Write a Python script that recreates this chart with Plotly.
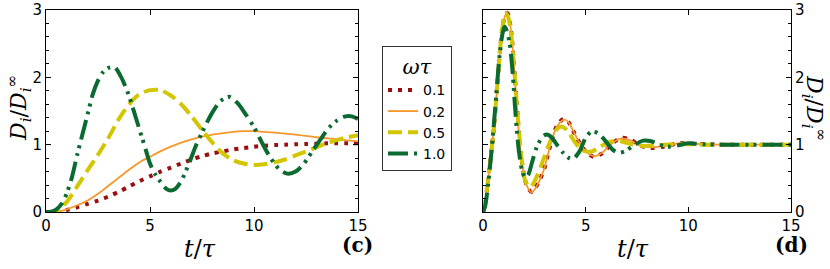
import plotly.graph_objects as go

# ---------------- data: panel (c) ----------------
c_t_01 = [0, 0.5, 1, 1.5, 2, 2.5, 3, 3.5, 4, 4.5, 5, 5.5, 6, 6.5, 7, 7.5, 8, 8.5, 9, 9.5,
          10, 10.5, 11, 11.5, 12, 12.5, 13, 13.5, 14, 14.5, 15]
c_v_01 = [0, 0.0, 0.03, 0.07, 0.12, 0.17, 0.23, 0.30, 0.38, 0.46, 0.53, 0.60, 0.66, 0.72,
          0.78, 0.83, 0.87, 0.90, 0.93, 0.95, 0.97, 0.985, 0.995, 1.0, 1.005, 1.01, 1.015,
          1.02, 1.02, 1.02, 1.02]

c_t_02 = [0, 0.5, 1, 1.5, 2, 2.5, 3, 3.5, 4, 4.5, 5, 5.5, 6, 6.5, 7, 7.5, 8, 8.5, 9, 9.5,
          10, 10.5, 11, 12, 13, 14, 15]
c_v_02 = [0, 0.005, 0.04, 0.10, 0.17, 0.27, 0.39, 0.51, 0.63, 0.74, 0.82, 0.90, 0.97, 1.03,
          1.08, 1.12, 1.15, 1.17, 1.19, 1.20, 1.20, 1.19, 1.18, 1.15, 1.11, 1.08, 1.05]

c_t_05 = [0, 0.5, 1, 1.5, 2, 2.5, 3, 3.5, 4, 4.5, 5, 5.5, 6, 6.5, 7, 7.5, 8, 8.5, 9, 9.5,
          10, 10.5, 11, 11.5, 12, 12.5, 13, 13.5, 14, 14.5, 15]
c_v_05 = [0, 0.01, 0.15, 0.38, 0.62, 0.85, 1.10, 1.38, 1.60, 1.75, 1.81, 1.81, 1.73, 1.60,
          1.42, 1.22, 1.03, 0.87, 0.77, 0.72, 0.70, 0.71, 0.74, 0.78, 0.84, 0.90, 0.96, 1.02,
          1.07, 1.11, 1.14]

c_t_10 = [0, 0.25, 0.5, 0.75, 1, 1.25, 1.5, 1.75, 2, 2.25, 2.5, 2.75, 3, 3.3, 3.6, 3.9, 4.1,
          4.35, 4.6, 4.8, 5, 5.25, 5.5, 5.8, 6, 6.2, 6.5, 6.9, 7.2, 7.5, 8, 8.4, 8.8, 9.2, 9.6,
          10, 10.4, 10.8, 11.2, 11.6, 12, 12.4, 12.8, 13.2, 13.6, 14, 14.4, 14.7, 15]
c_v_10 = [0, 0.005, 0.04, 0.12, 0.28, 0.52, 0.85, 1.15, 1.45, 1.75, 1.95, 2.08, 2.14, 2.15,
          2.01, 1.80, 1.62, 1.37, 1.12, 0.92, 0.72, 0.56, 0.45, 0.34, 0.32, 0.34, 0.46, 0.74,
          0.98, 1.18, 1.48, 1.65, 1.71, 1.62, 1.45, 1.26, 1.02, 0.80, 0.64, 0.57, 0.60, 0.72,
          0.90, 1.08, 1.25, 1.36, 1.42, 1.42, 1.38]

# ---------------- data: panel (d) ----------------
d_t_01 = [0, 0.1, 0.2, 0.35, 0.5, 0.65, 0.8, 0.95, 1.1, 1.2, 1.3, 1.4, 1.55, 1.7, 1.85, 2.0,
          2.15, 2.35, 2.55, 2.8, 3.0, 3.2, 3.4, 3.6, 3.85, 4.0, 4.2, 4.4, 4.7, 5.0, 5.4, 5.8,
          6.2, 6.7, 7.2, 7.7, 8.2, 8.8, 9.5, 10.5, 11.5, 13, 15]
d_v_01 = [0, 0.10, 0.35, 0.75, 1.15, 1.70, 2.30, 2.74, 2.94, 2.95, 2.83, 2.60, 2.02, 1.37,
          0.86, 0.54, 0.38, 0.30, 0.36, 0.50, 0.66, 0.90, 1.12, 1.28, 1.37, 1.38, 1.32, 1.20,
          1.03, 0.90, 0.82, 0.87, 0.99, 1.10, 1.07, 0.98, 0.95, 0.97, 1.02, 1.01, 1.0, 1.0, 1.0]

d_t_02 = [0, 0.1, 0.2, 0.35, 0.5, 0.65, 0.8, 0.95, 1.1, 1.2, 1.3, 1.4, 1.55, 1.7, 1.85, 2.0,
          2.15, 2.35, 2.55, 2.8, 3.0, 3.2, 3.4, 3.6, 3.85, 4.0, 4.2, 4.4, 4.7, 5.0, 5.4, 5.8,
          6.2, 6.7, 7.2, 7.7, 8.2, 8.8, 9.5, 10.5, 11.5, 13, 15]
d_v_02 = [0, 0.10, 0.35, 0.75, 1.15, 1.70, 2.30, 2.73, 2.93, 2.93, 2.82, 2.60, 2.00, 1.35,
          0.85, 0.53, 0.38, 0.29, 0.35, 0.50, 0.66, 0.90, 1.12, 1.27, 1.36, 1.37, 1.32, 1.20,
          1.03, 0.90, 0.83, 0.88, 1.00, 1.09, 1.06, 0.98, 0.96, 0.98, 1.02, 1.01, 1.0, 1.0, 1.0]

d_t_05 = [0, 0.1, 0.2, 0.35, 0.5, 0.65, 0.8, 0.95, 1.1, 1.2, 1.3, 1.45, 1.6, 1.75, 1.9, 2.05,
          2.25, 2.45, 2.65, 2.86, 3.0, 3.18, 3.4, 3.6, 3.8, 4.0, 4.2, 4.45, 4.7, 5.0, 5.3, 5.6,
          6.0, 6.3, 6.7, 7.2, 7.8, 8.5, 9.5, 11, 15]
d_v_05 = [0, 0.10, 0.35, 0.75, 1.15, 1.70, 2.30, 2.75, 2.95, 2.92, 2.80, 2.40, 1.80, 1.20,
          0.75, 0.47, 0.37, 0.42, 0.55, 0.71, 0.83, 0.98, 1.13, 1.23, 1.27, 1.24, 1.17, 1.05,
          0.95, 0.90, 0.90, 0.95, 1.02, 1.05, 1.05, 1.01, 0.98, 0.99, 1.01, 1.0, 1.0]

d_t_10 = [0, 0.1, 0.2, 0.35, 0.5, 0.65, 0.8, 0.95, 1.05, 1.15, 1.3, 1.45, 1.55, 1.65, 1.75,
          1.9, 2.05, 2.2, 2.4, 2.6, 2.9, 3.1, 3.3, 3.6, 3.9, 4.2, 4.4, 4.7, 5.0, 5.3, 5.6, 5.9,
          6.3, 6.6, 6.9, 7.3, 7.8, 8.2, 8.6, 9.0, 9.5, 10.0, 10.5, 11.5, 15]
d_v_10 = [0, 0.08, 0.28, 0.70, 1.20, 1.75, 2.30, 2.65, 2.75, 2.70, 2.50, 2.05, 1.60, 1.20,
          0.90, 0.62, 0.51, 0.55, 0.75, 0.95, 1.12, 1.15, 1.12, 1.00, 0.88, 0.80, 0.79, 0.90,
          1.10, 1.20, 1.17, 1.08, 0.93, 0.88, 0.90, 0.98, 1.06, 1.05, 1.00, 0.97, 0.99, 1.02,
          1.01, 1.0, 1.0]

labels = ["0.1", "0.2", "0.5", "1.0"]
x_ticks = [0, 5, 10, 15]
y_ticks = [0, 1, 2, 3]

colors = ["#990f0f", "#f7962b", "#d2c600", "#0b6a30"]
widths = [4, 1.8, 4, 4]
dashes = ["4px,6px", "solid", "14px,6px", "20px,6px,3px,5px,3px,6px"]

c_series = [(c_t_01, c_v_01), (c_t_02, c_v_02), (c_t_05, c_v_05), (c_t_10, c_v_10)]
d_series = [(d_t_01, d_v_01), (d_t_02, d_v_02), (d_t_05, d_v_05), (d_t_10, d_v_10)]

fig = go.Figure()
for i, (t, v) in enumerate(c_series):
    fig.add_trace(go.Scatter(x=t, y=v, mode="lines", name=labels[i], legendgroup=labels[i],
                             line=dict(color=colors[i], width=widths[i], dash=dashes[i],
                                       shape="spline", smoothing=0.8),
                             xaxis="x", yaxis="y", showlegend=True))
for i, (t, v) in enumerate(d_series):
    fig.add_trace(go.Scatter(x=t, y=v, mode="lines", name=labels[i], legendgroup=labels[i],
                             line=dict(color=colors[i], width=widths[i], dash=dashes[i],
                                       shape="spline", smoothing=0.8),
                             xaxis="x2", yaxis="y2", showlegend=False))

W, H = 830, 269


def px(x):
    return x / W


def py(y):
    return 1 - y / H


ydom = [py(212), py(10)]
tickfont = dict(family="DejaVu Sans", size=15, color="black")
axcommon = dict(showline=True, linecolor="black", linewidth=1, mirror="ticks",
                ticks="inside", ticklen=5, tickcolor="black", showgrid=False,
                zeroline=False, tickfont=tickfont, automargin=False,
                ticklabeloverflow="allow")
yminor = dict(dtick=0.2, ticks="inside", ticklen=3, tickcolor="black", showgrid=False)

fig.update_layout(
    width=W, height=H, margin=dict(l=0, r=0, t=0, b=0, autoexpand=False),
    paper_bgcolor="white", plot_bgcolor="white",
    showlegend=True,
    xaxis=dict(domain=[px(46), px(358)], range=[0, 15], tickvals=x_ticks,
               anchor="y", **axcommon),
    yaxis=dict(domain=ydom, range=[0, 3], tickvals=y_ticks, anchor="x",
               minor=yminor, **axcommon),
    xaxis2=dict(domain=[px(483), px(791)], range=[0, 15], tickvals=x_ticks,
                anchor="y2", **axcommon),
    yaxis2=dict(domain=ydom, range=[0, 3], tickvals=y_ticks, anchor="x2", side="right",
                minor=yminor, **axcommon),
    legend=dict(x=px(382), y=py(46), xanchor="left", yanchor="top",
                bordercolor="#333333", borderwidth=1, bgcolor="white",
                font=dict(family="DejaVu Sans", size=14, color="black"),
                title=dict(text="<i>ωτ</i>", side="top center",
                           font=dict(family="DejaVu Serif", size=21, color="black")),
                tracegroupgap=0),
)

serif = "DejaVu Serif"
ytitle = "<i>D<sub>i</sub></i>/<i>D<sub>i</sub><sup>∞</sup></i>"
common_ann = dict(xref="paper", yref="paper", showarrow=False,
                  xanchor="center", yanchor="middle")
ann = [
    dict(text="<i>t</i>/<i>τ</i>", x=px(200), y=py(249),
         font=dict(family=serif, size=24, color="black"), **common_ann),
    dict(text="<i>t</i>/<i>τ</i>", x=px(633), y=py(249),
         font=dict(family=serif, size=24, color="black"), **common_ann),
    dict(text=ytitle, x=px(19), y=py(108), textangle=-90,
         font=dict(family=serif, size=22, color="black"), **common_ann),
    dict(text=ytitle, x=px(814), y=py(108), textangle=90,
         font=dict(family=serif, size=22, color="black"), **common_ann),
    dict(text="<b>(c)</b>", x=px(357), y=py(245),
         font=dict(family=serif, size=20, color="black"), **common_ann),
    dict(text="<b>(d)</b>", x=px(791), y=py(245),
         font=dict(family=serif, size=20, color="black"), **common_ann),
]
fig.update_layout(annotations=ann)

# remove the default 8px page margin so the figure fills the window exactly
fig.write_html("out.html",
               config={"displayModeBar": False},
               post_script="document.body.style.margin='0';"
                           "document.body.style.overflow='hidden';")
